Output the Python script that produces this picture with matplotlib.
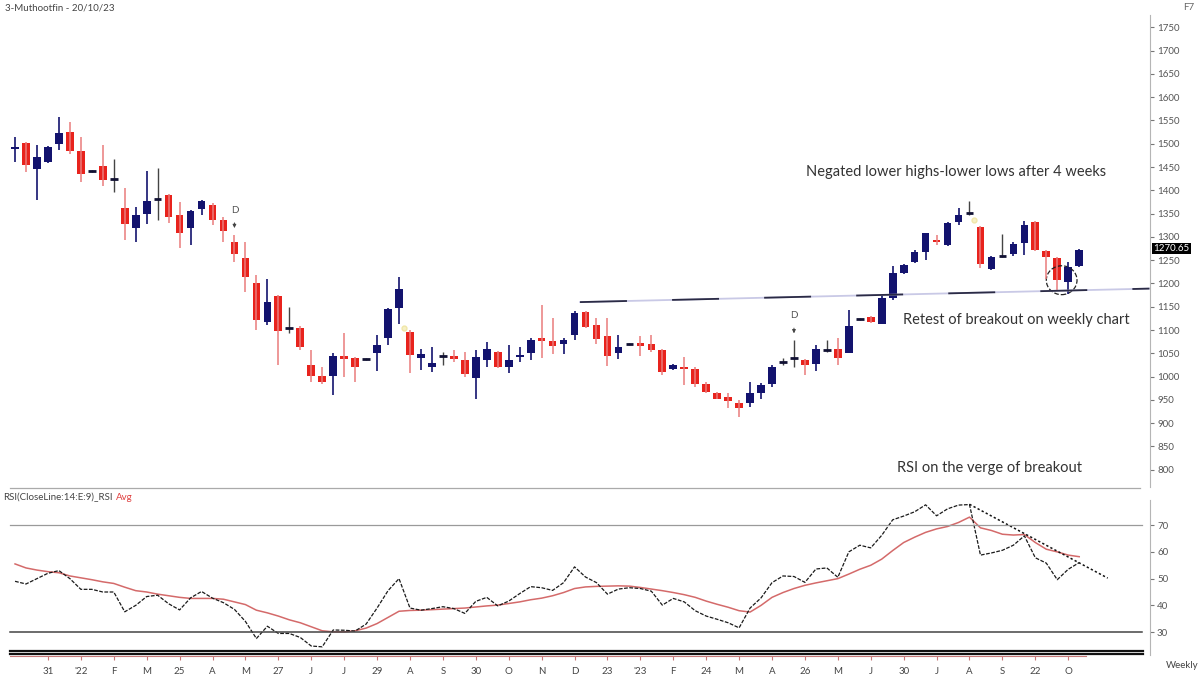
import numpy as np
import matplotlib.pyplot as plt
from matplotlib.patches import Ellipse
from matplotlib.lines import Line2D
import matplotlib.transforms as mtransforms

plt.rcParams['font.family'] = ['Lato', 'DejaVu Sans']

# weekly OHLC
opens = [1488, 1502, 1445, 1461, 1500, 1525, 1485, 1441, 1452, 1424,
         1361, 1319, 1349, 1381, 1389, 1348, 1320, 1359, 1368, 1336,
         1289, 1254, 1200, 1118, 1173, 1105, 1105, 1026, 1002, 1001,
         1044, 1039, 1037, 1050, 1084, 1148, 1096, 1041, 1021, 1044,
         1045, 1035, 998, 1035, 1053, 1020, 1042, 1051, 1083, 1077,
         1071, 1089, 1139, 1110, 1087, 1050, 1070, 1073, 1070, 1057,
         1017, 1021, 1017, 984, 965, 957, 944, 944, 964, 985,
         1031, 1039, 1035, 1028, 1058, 1060, 1050, 1123, 1127, 1114,
         1168, 1223, 1246, 1268, 1294, 1282, 1332, 1352, 1322, 1232,
         1259, 1264, 1287, 1332, 1270, 1254, 1203, 1237]
highs = [1515, 1504, 1497, 1495, 1557, 1547, 1515, 1443, 1498, 1468,
         1404, 1364, 1442, 1447, 1392, 1375, 1358, 1380, 1372, 1343,
         1304, 1289, 1218, 1209, 1176, 1150, 1108, 1057, 1021, 1050,
         1093, 1042, 1039, 1089, 1148, 1214, 1100, 1060, 1064, 1053,
         1057, 1053, 1057, 1075, 1055, 1068, 1064, 1082, 1153, 1125,
         1082, 1140, 1141, 1125, 1125, 1089, 1073, 1087, 1089, 1060,
         1028, 1042, 1020, 989, 967, 965, 950, 989, 987, 1025,
         1039, 1078, 1037, 1068, 1078, 1082, 1143, 1125, 1130, 1175,
         1237, 1241, 1272, 1309, 1304, 1332, 1361, 1377, 1324, 1259,
         1307, 1289, 1334, 1334, 1272, 1256, 1246, 1275]
lows = [1461, 1440, 1379, 1459, 1486, 1479, 1418, 1439, 1409, 1397,
        1293, 1289, 1327, 1336, 1329, 1277, 1282, 1347, 1326, 1289,
        1246, 1182, 1101, 1110, 1025, 1093, 1057, 989, 985, 960,
        1000, 989, 1035, 1012, 1068, 1114, 1007, 1015, 1010, 1025,
        1032, 1000, 951, 1020, 1018, 1007, 1032, 1035, 1039, 1048,
        1048, 1078, 1105, 1071, 1022, 1037, 1067, 1044, 1053, 1003,
        1014, 982, 978, 964, 951, 932, 914, 935, 953, 978,
        1025, 1021, 1003, 1012, 1053, 1025, 1050, 1121, 1116, 1114,
        1164, 1221, 1243, 1250, 1282, 1280, 1325, 1347, 1234, 1229,
        1256, 1260, 1261, 1269, 1209, 1185, 1178, 1235]
closes = [1492, 1454, 1472, 1493, 1524, 1485, 1435, 1440, 1422, 1423,
          1327, 1348, 1377, 1380, 1342, 1309, 1356, 1377, 1336, 1313,
          1263, 1213, 1121, 1160, 1098, 1104, 1064, 1001, 989, 1044,
          1037, 1021, 1038, 1068, 1146, 1189, 1046, 1048, 1030, 1046,
          1037, 1005, 1043, 1060, 1020, 1035, 1047, 1078, 1077, 1065,
          1078, 1137, 1107, 1080, 1044, 1064, 1070, 1066, 1057, 1010,
          1026, 1017, 984, 967, 953, 948, 932, 965, 983, 1021,
          1032, 1039, 1025, 1060, 1058, 1039, 1108, 1123, 1118, 1168,
          1223, 1239, 1268, 1309, 1289, 1330, 1348, 1351, 1241, 1257,
          1258, 1284, 1326, 1271, 1256, 1207, 1236, 1271]

rsi = [49, 48, 50, 52, 53, 50, 46, 46, 45, 45,
       37.6, 40, 43.3, 43.8, 40.6, 38.3, 42.8, 45.2, 42.7, 41,
       38.5, 34, 27.6, 32.2, 29.5, 29.5, 28, 24.8, 24.5, 30.8,
       30.7, 30.4, 33, 39, 45.5, 50, 39, 38.2, 38.8, 39.5,
       38.8, 37, 41.5, 43, 39.8, 41.6, 44.4, 47, 46.6, 45.6,
       48.5, 54.4, 50.6, 48.5, 44.2, 46.1, 46.6, 46.3, 45.3, 40.1,
       42.6, 41.3, 38, 36, 34.8, 33.5, 31.6, 39, 42.8, 48.5,
       51, 50.8, 48.6, 53.6, 54, 50.5, 60, 62.5, 61.5, 66.2,
       72, 73.4, 75, 77.6, 73.5, 76.1, 77.5, 77.7, 58.8, 59.6,
       60.6, 62.5, 66, 57.8, 55.8, 49.6, 53.5, 56]
rsi_avg = [55.5, 54, 53.2, 52.6, 52.2, 51, 50.3, 49.6, 48.8, 48.2,
           46.8, 45.5, 45, 44.2, 43.6, 43, 42.6, 42.6, 42.6, 42.3,
           41.3, 40.3, 38.2, 37.2, 36, 34.6, 33.5, 32, 30.5, 30.1,
           30.1, 30.5, 31.5, 33.2, 35.5, 37.8, 38.1, 38.2, 38.4, 38.6,
           38.8, 39, 39.4, 39.8, 40.1, 40.7, 41.3, 42.1, 42.7, 43.6,
           44.8, 46.3, 46.9, 47.1, 47.2, 47.3, 47.2, 46.7, 46.1, 45.5,
           44.8, 44, 43, 41.6, 40.4, 39.3, 38, 37.5, 40, 43,
           44.8, 46.3, 47.5, 48.4, 49.2, 50, 51.7, 53.5, 55, 57.3,
           60.5, 63.5, 65.5, 67.3, 68.6, 69.5, 71, 73, 69, 68,
           66.6, 66.3, 66.5, 63.5, 61, 60, 58.8, 58.2]

tick_labels = ['31', "'22", 'F', 'M', '25', 'A', 'M', '27', 'J', 'J', '29',
               'A', 'S', '30', 'O', 'N', 'D', '23', "'23", 'F', '24', 'M',
               'A', '26', 'M', 'J', '30', 'J', 'A', 'S', '22', 'O']

# breakout line and RSI trend line (week index, value)
bo_x = [52.5, 104.4]
bo_y = [1160, 1189]
tr_x = [88, 100.6]
tr_y = [77.8, 50.2]
d_weeks = [21, 72]

x = np.arange(1, len(closes) + 1)
o = np.array(opens, dtype=float)
h = np.array(highs, dtype=float)
l = np.array(lows, dtype=float)
c = np.array(closes, dtype=float)

fig = plt.figure(figsize=(11.98, 6.75), dpi=100)
ax = fig.add_axes([0, 0.2785, 0.96, 0.699])
ax2 = fig.add_axes([0, 0.028, 0.96, 0.2356])

up_col = '#13136e'
dn_col = '#e8231d'
dn_wick = '#ea7c7c'

doji = np.abs(c - o) <= 3
up = (c > o) & ~doji
dn = (c < o) & ~doji

ax.vlines(x[up], l[up], h[up], color=up_col, lw=1.2)
ax.vlines(x[dn], l[dn], h[dn], color=dn_wick, lw=1.1)
ax.vlines(x[doji], l[doji], h[doji], color='#444444', lw=1)
ax.bar(x[up], (c - o)[up], bottom=o[up], width=0.7, color=up_col)
ax.bar(x[dn], (o - c)[dn], bottom=c[dn], width=0.7, color=dn_col)
ax.hlines(((o + c) / 2)[doji], x[doji] - 0.35, x[doji] + 0.35, color='#111133', lw=2)

ax.plot(bo_x, bo_y, color='#c9c9e6', lw=1.3)
ax.plot(bo_x, bo_y, color='#2b2b45', lw=1.3, dashes=(26, 25))
ax.add_patch(Ellipse((96.4, 1207), 2.8, 62, fill=False, ls='--', lw=0.9, ec='#222222'))
ax.plot([36.45, 88.4], [1104, 1336], 'o', mfc='#f6f0c4', mec='#f0e6a8', ms=3.5)

for w in d_weeks:
    ax.annotate('D', xy=(w, h[w - 1]), xytext=(0, 18), textcoords='offset points',
                ha='center', va='center', fontsize=7, color='#555555',
                arrowprops=dict(arrowstyle='-|>', color='#444444', lw=0.7,
                                shrinkA=4, shrinkB=5, mutation_scale=5))

ax.text(86.8, 1439, 'Negated lower highs-lower lows after 4 weeks', ha='center',
        va='center', fontsize=10.5, color='#333333')
ax.text(92.25, 1121, 'Retest of breakout on weekly chart', ha='center',
        va='center', fontsize=10.5, color='#333333')
ax.text(89.8, 804, 'RSI on the verge of breakout', ha='center',
        va='center', fontsize=10.5, color='#333333')

ax.set_xlim(-0.37, 104.46)
ax.set_ylim(763, 1776)
for s in ['top', 'left', 'bottom']:
    ax.spines[s].set_visible(False)
ax.spines['right'].set_color('#b5b5b5')
ax.set_xticks([])
ax.yaxis.tick_right()
ax.set_yticks(range(800, 1751, 50))
ax.tick_params(axis='y', length=3, color='#777777', labelsize=7,
               labelcolor='#555555', pad=2)

trans = mtransforms.blended_transform_factory(ax.transAxes, ax.transData)
ax.text(1.003, 1275, '1270.65', transform=trans, color='white', fontsize=7,
        va='center', ha='left',
        bbox=dict(boxstyle='square,pad=0.15', fc='black', ec='none'))

# RSI panel
ax2.plot(x, rsi_avg, color='#d46a6a', lw=1.1)
ax2.plot(x, rsi, color='#1a1a1a', lw=0.9, ls=(0, (3, 1.2)))
ax2.plot(tr_x, tr_y, color='#111111', lw=1.1, ls=(0, (1.5, 1.5)))
ax2.axhline(70, xmin=0.0087, xmax=0.993, color='#9a9a9a', lw=0.9)
ax2.axhline(30, xmin=0.0087, xmax=0.993, color='#444444', lw=1.1)

ax2.set_xlim(-0.37, 104.46)
ax2.set_ylim(21.03, 80.5)
for s in ['top', 'left']:
    ax2.spines[s].set_visible(False)
ax2.spines['right'].set_color('#b5b5b5')
ax2.spines['right'].set_bounds(21.4, 79.3)
ax2.spines['bottom'].set_color('#c87878')
ax2.spines['bottom'].set_bounds(0.54, 98.6)
ax2.yaxis.tick_right()
ax2.set_yticks([30, 40, 50, 60, 70])
ax2.tick_params(axis='y', length=3, color='#777777', labelsize=7,
                labelcolor='#555555', pad=2)
ax2.set_xticks(range(4, 98, 3))
ax2.set_xticklabels(tick_labels)
ax2.tick_params(axis='x', length=3, color='#c87878', labelsize=7,
                labelcolor='#444444', pad=5)

# frame lines
fig.add_artist(Line2D([0.0083, 0.952], [1 - 488 / 675] * 2, color='#aaaaaa', lw=0.9))
fig.add_artist(Line2D([0.0083, 0.954], [1 - 650.5 / 675] * 2, color='#111111', lw=1.6))
fig.add_artist(Line2D([0.0083, 0.954], [1 - 653.5 / 675] * 2, color='#111111', lw=1.6))

fig.text(0.004, 1 - 8 / 675, '3-Muthootfin - 20/10/23', fontsize=7, color='#444444', va='center')
t = fig.text(0.003, 1 - 497 / 675, 'RSI(CloseLine:14:E:9)_RSI', fontsize=7,
             color='#444444', va='center')
ax2.annotate('Avg', xy=(1, 0.5), xycoords=t, xytext=(2, 0), textcoords='offset points',
             va='center', fontsize=7, color='#e04040')
fig.text(1183 / 1198, 1 - 8 / 675, 'F7', fontsize=7, color='#666666', va='center')
fig.text(1166 / 1198, 1 - 666 / 675, 'Weekly', fontsize=7, color='#444444', va='center')

plt.savefig('out.png', dpi=100)
